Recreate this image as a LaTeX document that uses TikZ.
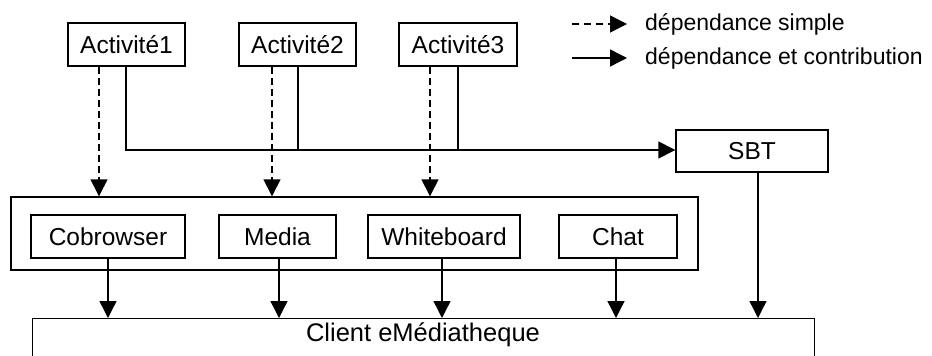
\documentclass[tikz,border=0pt]{standalone}
\usepackage{fontspec}
\setmainfont{Liberation Sans}
\usetikzlibrary{arrows.meta}
\begin{document}
\begin{tikzpicture}[x=1pt,y=-1pt,
  every node/.style={font=\fontsize{24.5pt}{29pt}\selectfont, inner sep=0pt},
  box/.style={draw, line width=1.4pt, minimum height=43pt},
  link/.style={line width=1.4pt},
  tip/.style={-{Triangle[length=17pt,width=17pt]}},
  simple/.style={link, tip, dash pattern=on 7pt off 4pt},
  contrib/.style={link, tip},
  legendtext/.style={font=\fontsize{23pt}{27pt}\selectfont, anchor=base west}]
  \useasboundingbox (0,0) rectangle (932,356);

  % activities
  \node (a1) [box, minimum width=117pt] at (126.5,44.5) {Activité1};
  \node (a2) [box, minimum width=117pt] at (297.5,44.5) {Activité2};
  \node (a3) [box, minimum width=118pt] at (458,44.5) {Activité3};

  % SBT
  \node (sbt) [box, minimum width=152pt, minimum height=42pt] at (752,151) {SBT};

  % tool group
  \node (group) [draw, line width=1.4pt, minimum width=687pt, minimum height=73pt] at (354.5,233.5) {};
  \node (cob) [box, minimum width=154pt] at (108,236.5) {Cobrowser};
  \node (media) [box, minimum width=117pt] at (277.5,236.5) {Media};
  \node (wb) [box, minimum width=152pt] at (444,236.5) {Whiteboard};
  \node (chat) [box, minimum width=118pt] at (618,236.5) {Chat};

  % client
  \node (client) [draw, line width=1.4pt, anchor=north west, minimum width=782pt, minimum height=70pt] at (32,318) {};
  \node (clientlabel) [font=\fontsize{25.5pt}{30pt}\selectfont] at (423,335) {Client eMédiatheque};

  % simple dependencies
  \draw[simple] (a1.south -| 99,0) -- (group.north -| 99,0);
  \draw[simple] (a2.south -| 272,0) -- (group.north -| 272,0);
  \draw[simple] (a3.south -| 430,0) -- (group.north -| 430,0);

  % contributions to SBT
  \coordinate (bus1) at (126,150);
  \draw[contrib] (a1.south -| bus1) -- (bus1) -- (sbt.west |- bus1);
  \draw[link] (a2.south -| 298,0) -- (298,150);
  \draw[link] (a3.south -| 458,0) -- (458,150);

  % tools to client
  \draw[contrib] (cob.south -| 108,0) -- (client.north -| 108,0);
  \draw[contrib] (media.south -| 279,0) -- (client.north -| 279,0);
  \draw[contrib] (wb.south -| 442,0) -- (client.north -| 442,0);
  \draw[contrib] (chat.south -| 616,0) -- (client.north -| 616,0);
  \draw[contrib] (sbt.south -| 758,0) -- (client.north -| 758,0);

  % legend
  \coordinate (l1s) at (572,24);
  \coordinate (l1e) at (627,24);
  \coordinate (l2s) at (572,58);
  \coordinate (l2e) at (627,58);
  \draw[link, tip, dash pattern=on 7pt off 5pt] (l1s) -- (l1e);
  \draw[contrib] (l2s) -- (l2e);
  \node (leg1) [legendtext] at (645,30) {dépendance simple};
  \node (leg2) [legendtext] at (645,64) {dépendance et contribution};
\end{tikzpicture}
\end{document}
